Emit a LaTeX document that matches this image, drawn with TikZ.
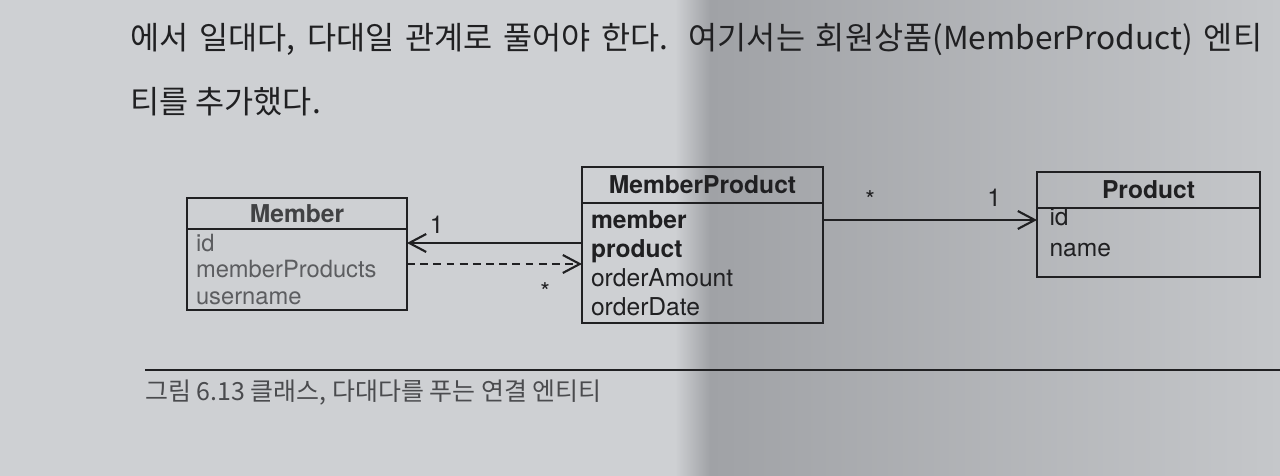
\documentclass[tikz,border=0pt]{standalone}
\usepackage{fontspec}
\setmainfont{TeX Gyre Heros}
\newfontfamily\kr{Noto Sans CJK KR}
\usetikzlibrary{positioning,arrows.meta}

\definecolor{paper}{RGB}{206,208,211}
\definecolor{shadowl}{RGB}{160,162,166}
\definecolor{shadowr}{RGB}{197,199,202}
\definecolor{ink}{RGB}{32,32,34}
\definecolor{fade}{RGB}{92,93,96}

\tikzset{
  classhead/.style={draw=ink,line width=1.2pt,outer sep=0pt,inner sep=0pt,
    font=\fontsize{14}{16}\selectfont\bfseries,text=ink},
  classbody/.style={draw=ink,line width=1.2pt,outer sep=0pt,inner xsep=0.18cm,
    inner ysep=0pt,align=left,text=ink},
  assoc/.style={draw=ink,line width=1.2pt,-{Straight Barb[length=3.4mm,width=3.6mm]}},
  dep/.style={assoc,dash pattern=on 4.5pt off 3pt},
  mult/.style={font=\fontsize{14}{16}\selectfont,text=ink,inner sep=1pt}
}

\begin{document}
\begin{tikzpicture}[x=0.02cm,y=-0.02cm]
% page and shadow
\fill[paper] (0,0) rectangle (1280,476);
\shade[left color=paper,right color=shadowl] (675,0) rectangle (710,476);
\shade[left color=shadowl,right color=shadowr] (710,0) rectangle (1280,476);
\useasboundingbox (0,0) rectangle (1280,476);

% running text
\node[anchor=west,font=\kr\fontsize{18}{20}\selectfont,text=ink,inner sep=0pt] (line1) at (130,40)
  {\makebox[22.64cm][s]{에서 일대다, 다대일 관계로 풀어야 한다. 여기서는 회원상품(MemberProduct) 엔티}};
\node[anchor=west,font=\kr\fontsize{18}{20}\selectfont,text=ink,inner sep=0pt] (line2) at (130,102)
  {티를 추가했다.};

% classes
\node[classhead,minimum width=4.4cm,minimum height=0.62cm,text=fade!55!ink] (mhead) at (297,213.5) {Member};
\node[classbody,below=0pt of mhead,text width=4.04cm,minimum height=1.62cm,text=fade,
  font=\fontsize{13.5}{15.3}\selectfont] (mbody) {id\\memberProducts\\username};

\node[classhead,minimum width=4.82cm,minimum height=0.72cm] (mphead) at (702.5,185) {MemberProduct};
\node[classbody,below=0pt of mphead,text width=4.46cm,minimum height=2.4cm,
  font=\fontsize{14}{16.6}\selectfont] (mpbody)
  {\textbf{member}\\\textbf{product}\\orderAmount\\orderDate};

\node[classhead,minimum width=4.46cm,minimum height=0.72cm] (phead) at (1148.5,190) {Product};
\node[classbody,below=0pt of phead,inner xsep=0.25cm,text width=3.96cm,minimum height=1.36cm,
  font=\fontsize{14}{17.5}\selectfont] (pbody) {id\\name\\[-6pt]\mbox{}};

% links
\coordinate (a1) at ([yshift=0.4cm]mpbody.west);
\coordinate (a2) at ([yshift=0.11cm]mbody.east);
\coordinate (a3) at ([yshift=0.86cm]mpbody.east);
\draw[assoc] (a1) -- (mbody.east |- a1) node[mult,pos=.83,above=4pt] {1};
\draw[dep] (a2) -- (mpbody.west |- a2) node[mult,pos=.79,below=9pt] {*};
\draw[assoc] (a3) -- (pbody.west |- a3)
  node[mult,pos=.22,above=5pt] {*}
  node[mult,pos=.8,above=6pt] {1};

% caption
\coordinate (r1) at (145,370);
\coordinate (r2) at (1280,370);
\draw[ink,line width=0.9pt] (r1) -- (r2);
\node[anchor=west,font=\kr\fontsize{14.2}{16}\selectfont,text=fade!70!ink,inner sep=0pt] (caption) at (145,393)
  {그림 6.13 클래스, 다대다를 푸는 연결 엔티티};
\end{tikzpicture}
\end{document}
